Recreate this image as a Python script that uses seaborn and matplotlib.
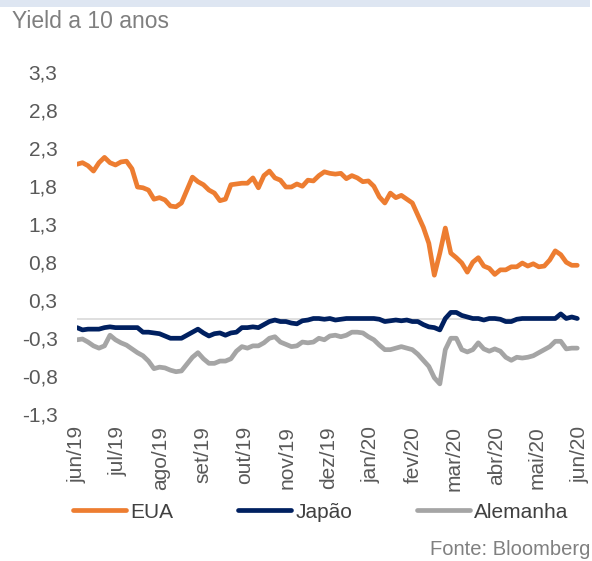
import pandas as pd
import matplotlib.pyplot as plt
from matplotlib.lines import Line2D
from matplotlib.patches import Rectangle
import seaborn as sns

# Yields de 10 anos (%), lidos a cada 4 dias a partir de 01/06/2019
datas = pd.date_range('2019-06-01', periods=92, freq='4D')

eua = [2.03, 2.05, 2.01, 1.94, 2.05, 2.12, 2.05, 2.02, 2.06, 2.07,
       1.97, 1.73, 1.72, 1.69, 1.57, 1.59, 1.56, 1.48, 1.47, 1.52,
       1.69, 1.86, 1.80, 1.76, 1.69, 1.65, 1.55, 1.57, 1.76, 1.77,
       1.78, 1.78, 1.85, 1.72, 1.88, 1.94, 1.85, 1.82, 1.73, 1.73,
       1.77, 1.74, 1.82, 1.81, 1.88, 1.93, 1.91, 1.90, 1.91, 1.84,
       1.88, 1.85, 1.80, 1.81, 1.74, 1.60, 1.52, 1.65, 1.59, 1.62,
       1.57, 1.52, 1.36, 1.20, 0.99, 0.57, 0.86, 1.19, 0.86, 0.80,
       0.73, 0.61, 0.74, 0.80, 0.69, 0.66, 0.58, 0.64, 0.64, 0.68,
       0.68, 0.73, 0.69, 0.72, 0.68, 0.69, 0.77, 0.89, 0.84, 0.74,
       0.70, 0.70]

japao = [-0.12, -0.15, -0.14, -0.14, -0.14, -0.12, -0.11, -0.12, -0.12, -0.12,
         -0.12, -0.12, -0.18, -0.18, -0.19, -0.20, -0.23, -0.26, -0.26, -0.26,
         -0.22, -0.18, -0.14, -0.19, -0.23, -0.20, -0.19, -0.22, -0.19, -0.18,
         -0.12, -0.12, -0.11, -0.12, -0.08, -0.04, -0.02, -0.04, -0.04, -0.06,
         -0.07, -0.03, -0.02, 0.00, 0.00, -0.01, 0.00, -0.02, -0.01, 0.00,
         0.00, 0.00, 0.00, 0.00, 0.00, -0.01, -0.04, -0.03, -0.02, -0.03,
         -0.02, -0.04, -0.04, -0.08, -0.11, -0.12, -0.15, 0.00, 0.08, 0.08,
         0.04, 0.02, 0.00, 0.00, -0.02, 0.00, 0.00, -0.01, -0.04, -0.04,
         -0.01, 0.00, 0.00, 0.00, 0.00, 0.00, 0.00, 0.00, 0.06, 0.00,
         0.02, 0.00]

alemanha = [-0.28, -0.27, -0.31, -0.36, -0.39, -0.36, -0.22, -0.28, -0.32, -0.35,
            -0.40, -0.45, -0.49, -0.56, -0.66, -0.64, -0.65, -0.68, -0.70, -0.69,
            -0.60, -0.51, -0.45, -0.53, -0.59, -0.59, -0.56, -0.56, -0.53, -0.43,
            -0.37, -0.39, -0.36, -0.36, -0.32, -0.26, -0.24, -0.31, -0.34, -0.37,
            -0.36, -0.31, -0.32, -0.31, -0.26, -0.28, -0.23, -0.22, -0.24, -0.22,
            -0.18, -0.18, -0.19, -0.24, -0.28, -0.35, -0.41, -0.41, -0.39, -0.37,
            -0.39, -0.41, -0.47, -0.55, -0.63, -0.78, -0.86, -0.41, -0.26, -0.26,
            -0.41, -0.44, -0.41, -0.32, -0.40, -0.43, -0.40, -0.43, -0.51, -0.55,
            -0.51, -0.52, -0.51, -0.49, -0.45, -0.41, -0.37, -0.30, -0.30, -0.40,
            -0.39, -0.39]

paises = ['EUA', 'Japão', 'Alemanha']
cores = {'EUA': '#ED7D31', 'Japão': '#002060', 'Alemanha': '#A5A5A5'}

meses = pd.date_range('2019-06-01', '2020-06-01', freq='MS')
rotulos_meses = ['jun/19', 'jul/19', 'ago/19', 'set/19', 'out/19', 'nov/19', 'dez/19',
                 'jan/20', 'fev/20', 'mar/20', 'abr/20', 'mai/20', 'jun/20']
ticks_y = [-1.25, -0.75, -0.25, 0.25, 0.75, 1.25, 1.75, 2.25, 2.75, 3.25]
rotulos_y = ['-1,3', '-0,8', '-0,3', '0,3', '0,8', '1,3', '1,8', '2,3', '2,8', '3,3']

df = pd.DataFrame({'data': datas, 'EUA': eua, 'Japão': japao, 'Alemanha': alemanha})
df_long = df.melt(id_vars='data', var_name='pais', value_name='yield')

sns.set_style('white')
plt.rcParams['font.family'] = ['Liberation Sans', 'DejaVu Sans']

fig = plt.figure(figsize=(5.92, 5.61), dpi=100)
ax = fig.add_axes([77 / 592, (561 - 413.5) / 561, (580 - 77) / 592, (413.5 - 71.5) / 561])

ax.axhline(0, color='#D9D9D9', linewidth=1.2, zorder=1)
sns.lineplot(data=df_long, x='data', y='yield', hue='pais', hue_order=paises,
             palette=cores, linewidth=3.4, legend=False, ax=ax, zorder=3)

ax.set_xlim(pd.Timestamp('2019-06-01'), pd.Timestamp('2020-06-01'))
ax.set_ylim(-1.25, 3.25)
ax.set_xticks(meses)
ax.set_xticklabels(rotulos_meses, rotation=90, fontsize=15, color='#595959')
ax.set_yticks(ticks_y)
ax.set_yticklabels(rotulos_y, fontsize=15, color='#595959')
ax.tick_params(axis='x', length=0, pad=9)
ax.tick_params(axis='y', length=0, pad=14)
ax.set_xlabel('')
ax.set_ylabel('')
for s in ax.spines.values():
    s.set_visible(False)
ax.grid(False)

# faixa azul clara no topo
fig.patches.append(Rectangle((0, 1 - 7 / 561), 590 / 592, 7 / 561, transform=fig.transFigure,
                             facecolor='#DEE6F2', edgecolor='none'))

fig.text(12 / 592, 1 - 28 / 561, 'Yield a 10 anos', fontsize=16.5, color='#7F7F7F',
         ha='left', va='baseline')

handles = [Line2D([0], [0], color=cores[p], linewidth=3.4, solid_capstyle='round') for p in paises]
fig.legend(handles, paises, loc='center left', bbox_to_anchor=(73 / 592, 1 - 512 / 561),
           ncol=3, frameon=False, fontsize=15, handlelength=2.55, handletextpad=0.2,
           columnspacing=3.1, borderpad=0, borderaxespad=0, labelcolor='#404040')

fig.text(590 / 592, 1 - 555 / 561, 'Fonte: Bloomberg', fontsize=14.5, color='#808080',
         ha='right', va='baseline')

fig.savefig('out.png', dpi=100)
plt.close(fig)
